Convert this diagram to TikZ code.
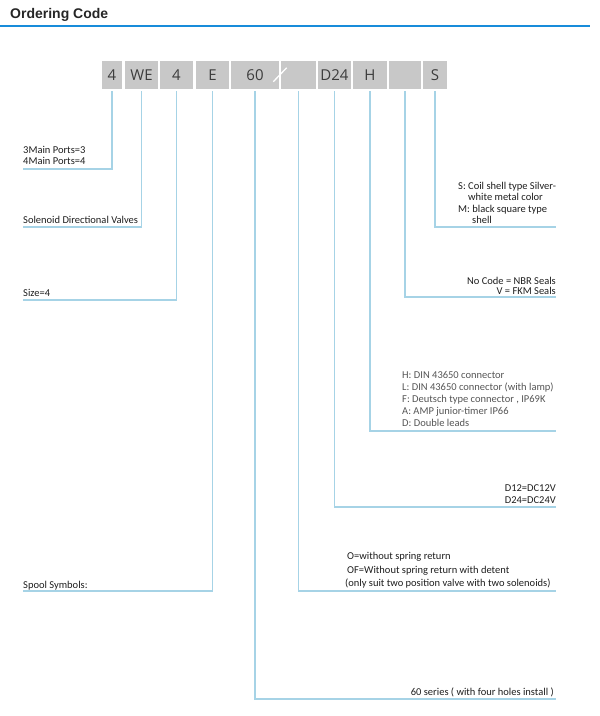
\documentclass[tikz,border=0pt]{standalone}
\usepackage{fontspec}
\setmainfont{Carlito}
\newfontfamily\titlefont{Liberation Sans}
\newfontfamily\boxfont{Open Sans}
\definecolor{boxgray}{RGB}{200,200,200}
\definecolor{boxtext}{RGB}{60,60,60}
\definecolor{connblue}{RGB}{166,211,230}
\definecolor{titleblue}{RGB}{24,140,218}
\definecolor{desctext}{RGB}{30,30,30}
\definecolor{desclight}{RGB}{85,85,85}
\begin{document}
\begin{tikzpicture}[x=1pt,y=-1pt,
  codebox/.style={fill=boxgray,inner sep=0pt,minimum height=28pt,text=boxtext,font=\boxfont\fontsize{15}{15}\selectfont},
  conn/.style={draw=connblue,line width=1.1pt,shorten <=2pt},
  lbl/.style={inner sep=0pt,text=desctext,font=\fontsize{10.5}{12}\selectfont},
  lbllight/.style={lbl,text=desclight}]
\useasboundingbox (0,0) rectangle (600,716);
% title
\node[anchor=base west,inner sep=0pt,font=\titlefont\bfseries\fontsize{14}{15}\selectfont,text=black!85] (title) at (10,18) {Ordering Code};
\coordinate (tl) at (0,25.7);
\coordinate (tr) at (590,25.7);
\draw[titleblue,line width=2.2pt] (tl) -- (tr);
% code boxes
\node[codebox,minimum width=20pt] (b1) at (112,75) {4};
\node[codebox,minimum width=33pt] (b2) at (141.5,75) {WE};
\node[codebox,minimum width=33pt] (b3) at (176.5,75) {4};
\node[codebox,minimum width=33pt] (b4) at (212.5,75) {E};
\node[codebox,minimum width=48pt] (b5) at (255,75) {60};
\node[codebox,minimum width=35pt] (b6) at (298.5,75) {};
\node[codebox,minimum width=33pt] (b7) at (334.5,75) {D24};
\node[codebox,minimum width=34pt] (b8) at (370,75) {H};
\node[codebox,minimum width=32pt] (b9) at (405,75) {};
\node[codebox,minimum width=24pt] (b10) at (435,75) {S};
\coordinate (s1) at (273.3,81.7);
\coordinate (s2) at (286.7,67.7);
\draw[white,line width=1.3pt] (s1) -- (s2);
% end points
\coordinate (e1) at (23,169);
\coordinate (e2) at (23,227);
\coordinate (e3) at (23,300);
\coordinate (e4) at (23,591);
\coordinate (e5) at (556,699);
\coordinate (e6) at (556,591);
\coordinate (e7) at (556,507);
\coordinate (e8) at (556,431);
\coordinate (e9) at (556,297);
\coordinate (e10) at (556,227);
\draw[conn] (b1.south) |- (e1);
\draw[conn] (b2.south) |- (e2);
\draw[conn] (b3.south) |- (e3);
\draw[conn] (b4.south) |- (e4);
\draw[conn] (b5.south) |- (e5);
\draw[conn] (b6.south) |- (e6);
\draw[conn] (b7.south) |- (e7);
\draw[conn] (b8.south) |- (e8);
\draw[conn] (b9.south) |- (e9);
\draw[conn] (b10.south) |- (e10);
% left labels
\node[lbl,anchor=base west] (t1a) at (23,153) {3Main Ports=3};
\node[lbl,anchor=base west] (t1b) at (23,164.5) {4Main Ports=4};
\node[lbl,anchor=base west] (t2) at (23,223) {Solenoid Directional Valves};
\node[lbl,anchor=base west] (t3) at (23,296) {Size=4};
\node[lbl,anchor=base west] (t4) at (23,588) {Spool Symbols:};
% right labels
\node[lbl,anchor=base west] (t10a) at (458,189) {S: Coil shell type Silver-};
\node[lbl,anchor=base west] (t10b) at (468,200.5) {white metal color};
\node[lbl,anchor=base west] (t10c) at (458,212) {M: black square type};
\node[lbl,anchor=base west] (t10d) at (472,223.5) {shell};
\node[lbl,anchor=base east] (t9a) at (556,284) {No Code = NBR Seals};
\node[lbl,anchor=base east] (t9b) at (556,294) {V = FKM Seals};
\node[lbllight,anchor=base west] (t8a) at (402,378.5) {H: DIN 43650 connector};
\node[lbllight,anchor=base west] (t8b) at (402,390.5) {L: DIN 43650 connector (with lamp)};
\node[lbllight,anchor=base west] (t8c) at (402,402.5) {F: Deutsch type connector , IP69K};
\node[lbllight,anchor=base west] (t8d) at (402,414.5) {A: AMP junior-timer IP66};
\node[lbllight,anchor=base west] (t8e) at (402,426.5) {D: Double leads};
\node[lbl,anchor=base east] (t7a) at (556,491) {D12=DC12V};
\node[lbl,anchor=base east] (t7b) at (556,503) {D24=DC24V};
\node[lbl,anchor=base west] (t6a) at (347,559.5) {O=without spring return};
\node[lbl,anchor=base west] (t6b) at (347,573) {OF=Without spring return with detent};
\node[lbl,anchor=base west] (t6c) at (345,586.5) {(only suit two position valve with two solenoids)};
\node[lbl,anchor=base east] (t5) at (554,695) {60 series ( with four holes install )};
\end{tikzpicture}
\end{document}
